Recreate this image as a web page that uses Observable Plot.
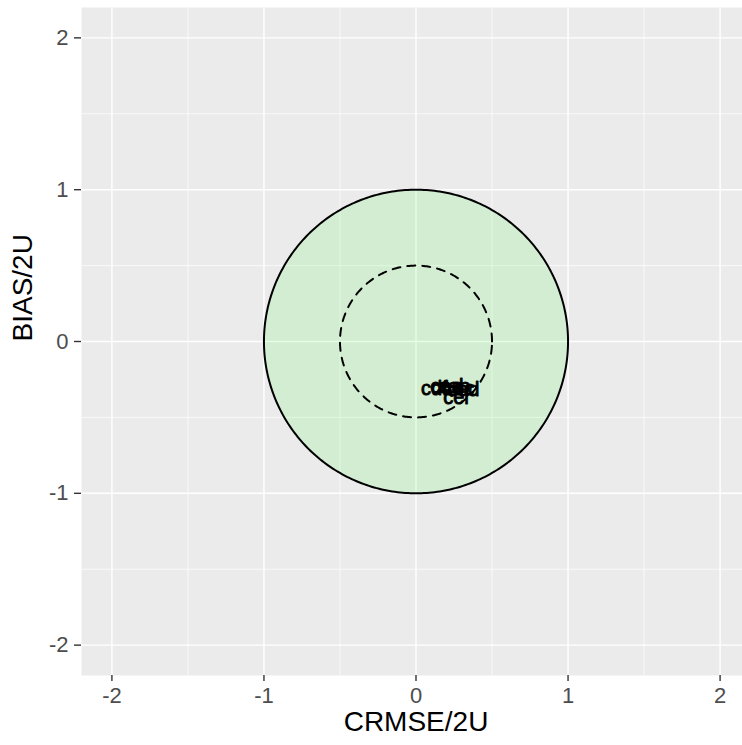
<!DOCTYPE html>
<html><head><meta charset="utf-8">
<script src="https://cdn.jsdelivr.net/npm/d3@7"></script>
<script src="https://cdn.jsdelivr.net/npm/@observablehq/plot@0.6"></script>
<style>
body{margin:0;background:#fff;overflow:hidden}
#c{width:742px;height:745px;overflow:hidden}
#c svg{max-width:none!important}
</style></head><body><div id="c"></div>
<script>
const majorBreaks = [-2, -1, 0, 1, 2];
const minorBreaks = [-1.5, -0.5, 0.5, 1.5];
const tickLabels = ["-2", "-1", "0", "1", "2"];
const targetRadii = [1, 0.5];
const labels = ["cdf", "cea", "ceb", "cec", "ced", "cer"];
const crmse = [0.12, 0.20, 0.25, 0.28, 0.31, 0.27];
const bias = [-0.31, -0.30, -0.30, -0.31, -0.32, -0.37];

const pts = labels.map((l, i) => ({label: l, x: crmse[i], y: bias[i]}));
const N = 360;
const circ = targetRadii.flatMap(r => d3.range(N + 1).map(k => {
  const t = 2 * Math.PI * k / N; return {r, x: r * Math.cos(t), y: r * Math.sin(t)};
}));
const half = d3.range(N / 2 + 1).map(k => {
  const t = Math.PI * k / (N / 2); const R = targetRadii[0];
  return {x: R * Math.cos(t), y1: -R * Math.sin(t), y2: R * Math.sin(t)};
});
const ticks = majorBreaks.map((v, i) => ({v, label: tickLabels[i]}));

const font = "'Liberation Sans', Arial, sans-serif";
const chart = Plot.plot({
  width: 750, height: 745,
  marginLeft: 81, marginRight: 0, marginTop: 7, marginBottom: 70,
  style: {fontFamily: font, background: "white"},
  x: {domain: [-2.2, 2.2], axis: null},
  y: {domain: [-2.2, 2.2], axis: null},
  marks: [
    Plot.frame({fill: "#ebebeb", stroke: null}),
    Plot.ruleX(minorBreaks, {stroke: "white", strokeWidth: 0.7}),
    Plot.ruleY(minorBreaks, {stroke: "white", strokeWidth: 0.7}),
    Plot.ruleX(majorBreaks, {stroke: "white", strokeWidth: 1.4}),
    Plot.ruleY(majorBreaks, {stroke: "white", strokeWidth: 1.4}),
    Plot.areaY(half, {x: "x", y1: "y1", y2: "y2", fill: "#00ff00", fillOpacity: 0.1, curve: "linear"}),
    Plot.line(circ.filter(d => d.r === targetRadii[0]), {x: "x", y: "y", stroke: "black", strokeWidth: 2}),
    Plot.line(circ.filter(d => d.r === targetRadii[1]), {x: "x", y: "y", stroke: "black", strokeWidth: 2, strokeDasharray: "8,7"}),
    Plot.text(pts, {x: "x", y: "y", text: "label", fontSize: 20, fill: "black", stroke: "black", strokeWidth: 0.9, fontFamily: font}),
    Plot.axisX(majorBreaks, {tickSize: 6, stroke: "#333", strokeWidth: 1.4, tickFormat: () => "", label: null}),
    Plot.axisY(majorBreaks, {tickSize: 7, stroke: "#333", strokeWidth: 1.4, tickFormat: () => "", label: null}),
    Plot.text(ticks, {x: "v", text: "label", frameAnchor: "bottom", dy: 27, fontSize: 22, fill: "#4d4d4d"}),
    Plot.text(ticks, {y: "v", text: "label", frameAnchor: "left", dx: -13, textAnchor: "end", fontSize: 22, fill: "#4d4d4d"}),
    Plot.text(["CRMSE/2U"], {frameAnchor: "bottom", x: 0, dy: 55, fontSize: 28, fill: "black", text: d => d}),
    Plot.text(["BIAS/2U"], {frameAnchor: "left", y: 0, dx: -58, rotate: -90, fontSize: 28, fill: "black", text: d => d})
  ]
});
document.getElementById("c").appendChild(chart);
</script></body></html>
